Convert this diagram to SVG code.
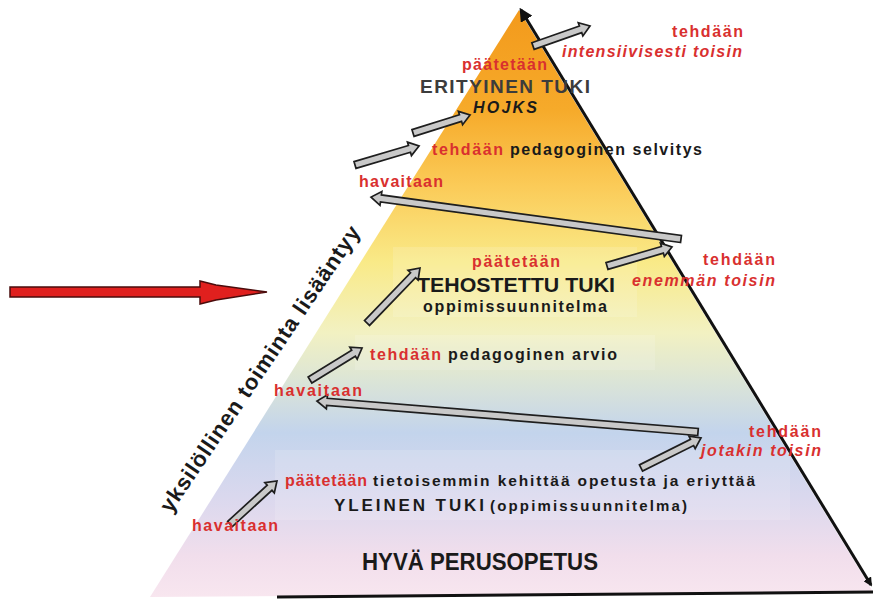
<svg xmlns="http://www.w3.org/2000/svg" width="876" height="599" viewBox="0 0 876 599">
  <defs>
    <linearGradient id="pyr" x1="0" y1="10" x2="0" y2="597" gradientUnits="userSpaceOnUse">
      <stop offset="0" stop-color="#f39a1c"/>
      <stop offset="0.17" stop-color="#f6aa2a"/>
      <stop offset="0.3" stop-color="#fbcb58"/>
      <stop offset="0.43" stop-color="#f9ea88"/>
      <stop offset="0.55" stop-color="#f2f1c2"/>
      <stop offset="0.63" stop-color="#dce5d6"/>
      <stop offset="0.72" stop-color="#c3d4ec"/>
      <stop offset="0.83" stop-color="#dad8ee"/>
      <stop offset="0.93" stop-color="#f1deec"/>
      <stop offset="1" stop-color="#f8e6ef"/>
    </linearGradient>
    <marker id="blackHead" viewBox="0 0 10 10" refX="8" refY="5" markerWidth="4.5" markerHeight="4.5" orient="auto-start-reverse" markerUnits="strokeWidth">
      <path d="M0,0 L10,5 L0,10 Z" fill="#111"/>
    </marker>
    <marker id="blackHeadSmall" viewBox="0 0 10 10" refX="8" refY="5" markerWidth="3" markerHeight="3" orient="auto" markerUnits="strokeWidth">
      <path d="M0,0 L10,5 L0,10 Z" fill="#111"/>
    </marker>
    <style>
      .t { font-family: "Liberation Sans", Arial, sans-serif; font-weight: bold; }
      .red { fill: #d9302f; }
      .blk { fill: #1a1a1a; }
      .it { font-style: italic; }
      .garrow { fill: #c9c9c9; stroke: #1e1e1e; stroke-width: 1.7; stroke-linejoin: miter; }
      .edge { stroke: #111; stroke-width: 3; fill: none; }
      .pane { fill: #ffffff; fill-opacity: 0.14; }
    </style>
  </defs>

  <rect width="876" height="599" fill="#ffffff"/>

  <!-- pyramid body -->
  <g id="pyramid">
    <polygon points="519,10 150,597 873,592" fill="url(#pyr)"/>
    <rect class="pane" x="393" y="247" width="244" height="70"/>
    <rect class="pane" x="355" y="335" width="300" height="35"/>
    <rect class="pane" x="275" y="450" width="515" height="70"/>
    <line class="edge" x1="521" y1="10" x2="871" y2="585" marker-start="url(#blackHead)" marker-end="url(#blackHeadSmall)"/>
    <line class="edge" x1="277" y1="597" x2="873" y2="592"/>
  </g>

  <!-- red arrow -->
  <g id="red-arrow">
    <polygon points="10,287 200,287 200,281 216,285 267,292 216,300 200,304 200,297 10,297" fill="#e0201e" stroke="#4a0c0c" stroke-width="1.5"/>
  </g>

  <!-- side label -->
  <g id="side-label">
    <text class="t blk" font-size="22" x="266" y="373" text-anchor="middle" transform="rotate(-56 266 373)" textLength="340" lengthAdjust="spacing">yksilöllinen toiminta lisääntyy</text>
  </g>

  <!-- connectors (grey block arrows) -->
  <g id="connectors">
    <path class="garrow" transform="translate(533,46) rotate(-19.3)" d="M0,-3.5 L50.4,-3.5 L50.4,-7 L60.4,0 L50.4,7 L50.4,3.5 L0,3.5 Z"/>
    <path class="garrow" transform="translate(413,133) rotate(-17.5)" d="M0,-3.5 L49.8,-3.5 L49.8,-7 L59.8,0 L49.8,7 L49.8,3.5 L0,3.5 Z"/>
    <path class="garrow" transform="translate(355,165) rotate(-16.5)" d="M0,-3.5 L56.8,-3.5 L56.8,-7 L66.8,0 L56.8,7 L56.8,3.5 L0,3.5 Z"/>
    <path class="garrow" transform="translate(681,239) rotate(187.7)" d="M0,-3.5 L302.8,-3.5 L302.8,-7 L312.8,0 L302.8,7 L302.8,3.5 L0,3.5 Z"/>
    <path class="garrow" transform="translate(607,266) rotate(-16.3)" d="M0,-3.5 L57.7,-3.5 L57.7,-7 L67.7,0 L57.7,7 L57.7,3.5 L0,3.5 Z"/>
    <path class="garrow" transform="translate(367,323) rotate(-46.1)" d="M0,-3.5 L66.4,-3.5 L66.4,-7 L76.4,0 L66.4,7 L66.4,3.5 L0,3.5 Z"/>
    <path class="garrow" transform="translate(310,380) rotate(-31.6)" d="M0,-3.5 L51.1,-3.5 L51.1,-7 L61.1,0 L51.1,7 L51.1,3.5 L0,3.5 Z"/>
    <path class="garrow" transform="translate(698,432) rotate(184.65)" d="M0,-3.5 L372.3,-3.5 L372.3,-7 L382.3,0 L372.3,7 L372.3,3.5 L0,3.5 Z"/>
    <path class="garrow" transform="translate(641,468) rotate(-26.6)" d="M0,-3.5 L57.1,-3.5 L57.1,-7 L67.1,0 L57.1,7 L57.1,3.5 L0,3.5 Z"/>
    <path class="garrow" transform="translate(230,524) rotate(-42.5)" d="M0,-3.5 L53.7,-3.5 L53.7,-7 L63.7,0 L53.7,7 L53.7,3.5 L0,3.5 Z"/>
  </g>

  <!-- level: erityinen tuki -->
  <g id="erityinen">
    <text class="t red" font-size="16" x="672" y="37" textLength="71" lengthAdjust="spacing">tehdään</text>
    <text class="t red it" font-size="16" x="562" y="57" textLength="180" lengthAdjust="spacing">intensiivisesti toisin</text>
    <text class="t red" font-size="16" x="462" y="70" textLength="85" lengthAdjust="spacing">päätetään</text>
    <text class="t" font-size="19" fill="#3c3c3c" x="420" y="93" textLength="170" lengthAdjust="spacing">ERITYINEN TUKI</text>
    <text class="t blk it" font-size="16" x="473" y="113" textLength="64" lengthAdjust="spacing">HOJKS</text>
    <text class="t red" font-size="16" x="432" y="155" textLength="71" lengthAdjust="spacing">tehdään</text>
    <text class="t blk" font-size="16" x="510" y="155" textLength="192" lengthAdjust="spacing">pedagoginen selvitys</text>
    <text class="t red" font-size="16" x="359" y="187" textLength="84" lengthAdjust="spacing">havaitaan</text>
  </g>

  <!-- level: tehostettu tuki -->
  <g id="tehostettu">
    <text class="t red" font-size="16" x="472" y="267" textLength="88" lengthAdjust="spacing">päätetään</text>
    <text class="t blk" font-size="21" x="417" y="292" textLength="198" lengthAdjust="spacingAndGlyphs">TEHOSTETTU TUKI</text>
    <text class="t blk" font-size="16" x="423" y="312" textLength="184" lengthAdjust="spacing">oppimissuunnitelma</text>
    <text class="t red" font-size="16" x="703" y="265" textLength="72" lengthAdjust="spacing">tehdään</text>
    <text class="t red it" font-size="16" x="632" y="286" textLength="143" lengthAdjust="spacing">enemmän toisin</text>
    <text class="t red" font-size="16" x="370" y="360" textLength="71" lengthAdjust="spacing">tehdään</text>
    <text class="t blk" font-size="16" x="448" y="360" textLength="169" lengthAdjust="spacing">pedagoginen arvio</text>
    <text class="t red" font-size="16" x="274" y="396" textLength="88" lengthAdjust="spacing">havaitaan</text>
  </g>

  <!-- level: yleinen tuki -->
  <g id="yleinen">
    <text class="t red" font-size="16" x="749" y="437" textLength="72" lengthAdjust="spacing">tehdään</text>
    <text class="t red it" font-size="16" x="701" y="456" textLength="120" lengthAdjust="spacing">jotakin toisin</text>
    <text class="t red" font-size="16" x="285" y="486" textLength="82" lengthAdjust="spacing">päätetään</text>
    <text class="t blk" font-size="15.5" x="373" y="486" textLength="382" lengthAdjust="spacing">tietoisemmin kehittää opetusta ja eriyttää</text>
    <text class="t blk" font-size="17" x="334" y="511" textLength="150" lengthAdjust="spacing">YLEINEN TUKI</text>
    <text class="t blk" font-size="15" x="490" y="511" textLength="197" lengthAdjust="spacing">(oppimissuunnitelma)</text>
    <text class="t red" font-size="16" x="192" y="531" textLength="86" lengthAdjust="spacing">havaitaan</text>
  </g>

  <!-- base -->
  <g id="perusopetus">
    <text class="t blk" font-size="24" x="362" y="570" textLength="236" lengthAdjust="spacingAndGlyphs">HYVÄ PERUSOPETUS</text>
  </g>
</svg>
